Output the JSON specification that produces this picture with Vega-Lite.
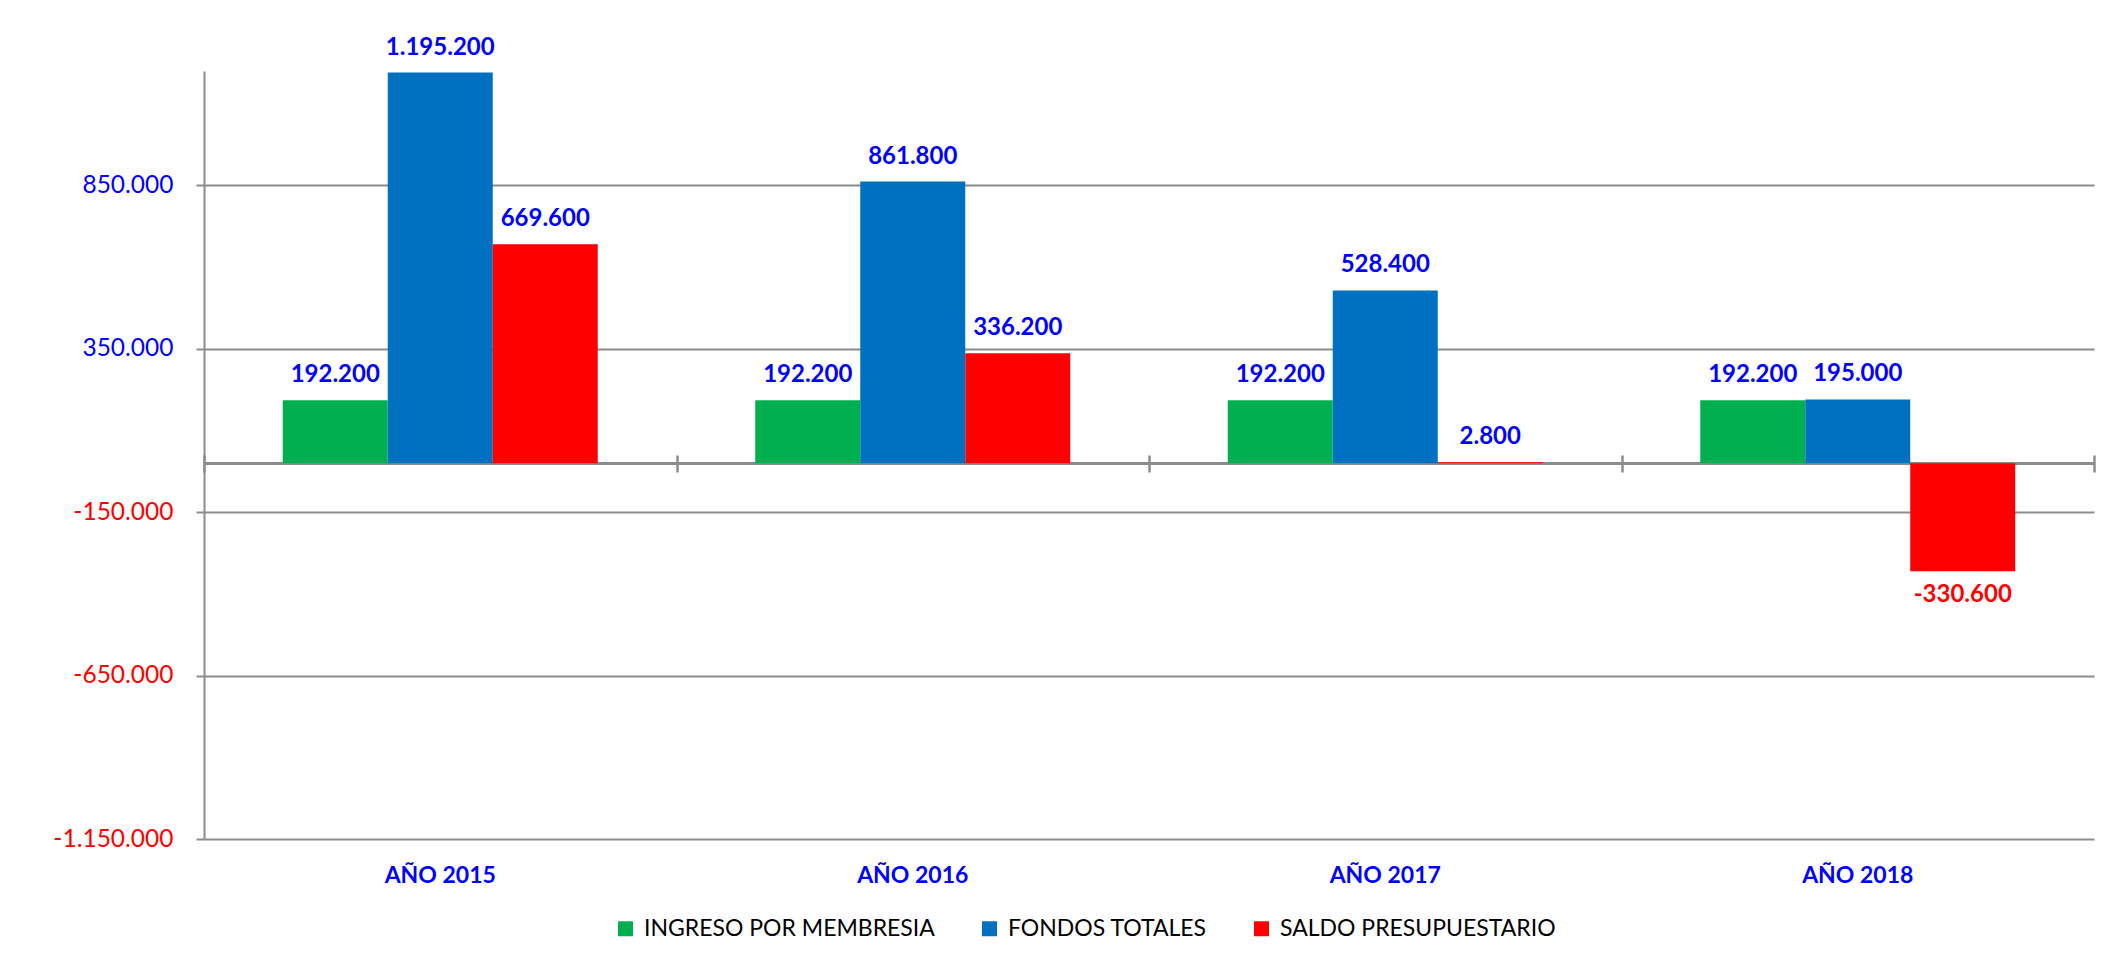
{
  "$schema": "https://vega.github.io/schema/vega-lite/v6.json",
  "autosize": {"type": "none"},
  "padding": {"left": 204, "top": 71, "right": 34, "bottom": 125},
  "width": 1890,
  "height": 768,
  "background": "white",
  "data": {
    "values": [
      {"anio": "AÑO 2015", "serie": "INGRESO POR MEMBRESIA", "valor": 192200},
      {"anio": "AÑO 2015", "serie": "FONDOS TOTALES", "valor": 1195200},
      {"anio": "AÑO 2015", "serie": "SALDO PRESUPUESTARIO", "valor": 669600},
      {"anio": "AÑO 2016", "serie": "INGRESO POR MEMBRESIA", "valor": 192200},
      {"anio": "AÑO 2016", "serie": "FONDOS TOTALES", "valor": 861800},
      {"anio": "AÑO 2016", "serie": "SALDO PRESUPUESTARIO", "valor": 336200},
      {"anio": "AÑO 2017", "serie": "INGRESO POR MEMBRESIA", "valor": 192200},
      {"anio": "AÑO 2017", "serie": "FONDOS TOTALES", "valor": 528400},
      {"anio": "AÑO 2017", "serie": "SALDO PRESUPUESTARIO", "valor": 2800},
      {"anio": "AÑO 2018", "serie": "INGRESO POR MEMBRESIA", "valor": 192200},
      {"anio": "AÑO 2018", "serie": "FONDOS TOTALES", "valor": 195000},
      {"anio": "AÑO 2018", "serie": "SALDO PRESUPUESTARIO", "valor": -330600}
    ]
  },
  "encoding": {
    "x": {
      "field": "anio", "type": "nominal",
      "scale": {"paddingInner": 0, "paddingOuter": 0}
    },
    "y": {
      "field": "valor", "type": "quantitative",
      "scale": {"domain": [-1150000, 1200000], "nice": false, "zero": false},
      "axis": {
        "title": null,
        "values": [-1150000, -650000, -150000, 350000, 850000],
        "format": ",d",
        "labelFont": "Lato", "labelFontSize": 24.5,
        "labelColor": {"condition": {"test": "datum.value < 0", "value": "#FF0000"}, "value": "#0000FF"},
        "labelPadding": 23,
        "tickSize": 8, "tickColor": "#8c8c8c", "tickWidth": 2,
        "domainColor": "#8c8c8c", "domainWidth": 2,
        "grid": true, "gridColor": "#8c8c8c", "gridWidth": 2
      }
    },
    "xOffset": {
      "field": "serie", "type": "nominal",
      "sort": ["INGRESO POR MEMBRESIA", "FONDOS TOTALES", "SALDO PRESUPUESTARIO"],
      "scale": {"paddingInner": 0, "paddingOuter": 0.75}
    }
  },
  "layer": [
    {
      "mark": {"type": "rule", "color": "#8c8c8c", "strokeWidth": 2.5},
      "encoding": {"y": {"datum": 0}, "x": null, "xOffset": null}
    },
    {
      "mark": {"type": "bar"},
      "encoding": {
        "x": {
          "field": "anio", "type": "nominal",
          "axis": {
            "orient": "bottom", "title": null, "labelAngle": 0,
            "labelFont": "Lato", "labelFontSize": 23, "labelFontWeight": "bold",
            "labelColor": "#0000FF", "labelPadding": 25,
            "ticks": false, "tickSize": 0, "domain": false, "grid": false
          }
        },
        "color": {
          "field": "serie", "type": "nominal",
          "sort": ["INGRESO POR MEMBRESIA", "FONDOS TOTALES", "SALDO PRESUPUESTARIO"],
          "scale": {
            "domain": ["INGRESO POR MEMBRESIA", "FONDOS TOTALES", "SALDO PRESUPUESTARIO"],
            "range": ["#00B050", "#0070C0", "#FF0000"]
          },
          "legend": {
            "title": null, "orient": "none", "direction": "horizontal",
            "legendX": 410, "legendY": 846,
            "symbolType": "square", "symbolSize": 225, "symbolStrokeWidth": 0,
            "labelFont": "Lato", "labelFontSize": 23, "labelColor": "#000000",
            "labelLimit": 0, "labelOffset": 7, "columnPadding": 43
          }
        }
      }
    },
    {
      "transform": [{"filter": "datum.valor >= 0"}],
      "mark": {"type": "text", "font": "Lato", "fontSize": 24, "fontWeight": "bold", "baseline": "alphabetic", "dy": -18, "color": "#0000FF"},
      "encoding": {
        "x": {
          "field": "anio", "type": "nominal",
          "axis": {
            "orient": "bottom", "title": null, "offset": -384,
            "labels": false, "domain": false, "grid": false,
            "ticks": true, "tickBand": "extent", "tickSize": 17,
            "tickColor": "#8c8c8c", "tickWidth": 2.5
          }
        },
        "text": {"field": "valor", "type": "quantitative", "format": ",d"}
      }
    },
    {
      "transform": [{"filter": "datum.valor < 0"}],
      "mark": {"type": "text", "font": "Lato", "fontSize": 24, "fontWeight": "bold", "baseline": "alphabetic", "dy": 31, "color": "#FF0000"},
      "encoding": {
        "x": {"field": "anio", "type": "nominal", "axis": null},
        "text": {"field": "valor", "type": "quantitative", "format": ",d"}
      }
    }
  ],
  "resolve": {"axis": {"x": "independent"}},
  "config": {
    "locale": {"number": {"decimal": ",", "thousands": ".", "grouping": [3], "currency": ["", " €"], "minus": "-"}},
    "view": {"stroke": null}
  }
}
